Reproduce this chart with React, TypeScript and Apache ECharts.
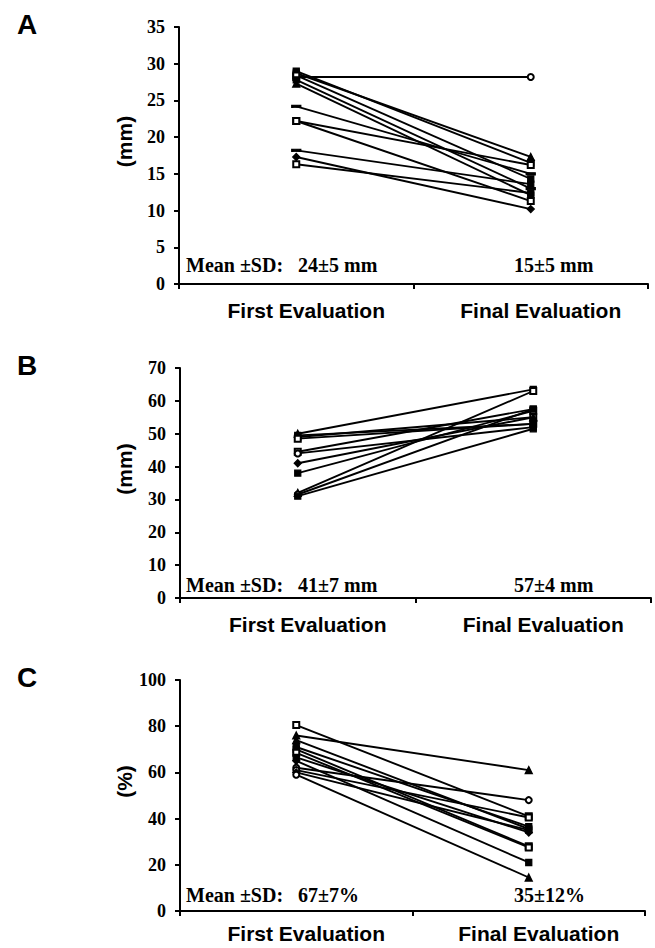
import React, { useEffect, useRef } from "react";
import * as echarts from "echarts";

const categories = ["First Evaluation", "Final Evaluation"];

// Panel A (mm)
const aFirst = [28.2, 29.0, 28.7, 28.4, 27.8, 27.3, 24.2, 22.2, 22.2, 18.2, 17.3, 16.3];
const aFinal = [28.2, 16.5, 17.3, 14.3, 13.0, 12.1, 15.0, 16.2, 11.3, 13.6, 10.2, 12.4];
const aFirstSym = ["emptyRect", "rect", "rect", "emptyRect", "rect", "triangle", "dash", "emptyRect", "emptyRect", "dash", "diamond", "emptyRect"];
const aFinalSym = ["emptyCircle", "rect", "triangle", "rect", "dash", "rect", "dash", "emptyRect", "emptyRect", "rect", "diamond", "rect"];
const aMeans = ["Mean ±SD:   24±5 mm", "15±5 mm"];

// Panel B (mm)
const bFirst = [50.0, 49.5, 49.0, 48.5, 44.5, 44.0, 41.0, 38.0, 32.0, 31.5, 31.0];
const bFinal = [63.5, 53.0, 55.0, 53.0, 57.5, 52.0, 55.0, 57.0, 63.0, 57.5, 51.5];
const bFirstSym = ["triangle", "rect", "rect", "emptyRect", "emptyRect", "emptyCircle", "diamond", "rect", "triangle", "emptyCircle", "rect"];
const bFinalSym = ["rect", "emptyRect", "emptyRect", "rect", "rect", "rect", "triangle", "emptyRect", "emptyRect", "rect", "rect"];
const bMeans = ["Mean ±SD:   41±7 mm", "57±4 mm"];

// Panel C (%)
const cFirst = [80.5, 76.0, 74.0, 71.0, 70.0, 68.5, 66.5, 65.0, 62.0, 61.0, 60.0, 59.0];
const cFinal = [41.0, 61.0, 35.5, 36.5, 28.0, 27.5, 34.0, 21.0, 48.0, 40.5, 35.0, 14.5];
const cFirstSym = ["emptyRect", "triangle", "triangle", "rect", "rect", "emptyRect", "rect", "diamond", "emptyCircle", "emptyCircle", "diamond", "emptyCircle"];
const cFinalSym = ["emptyRect", "triangle", "rect", "rect", "emptyRect", "emptyRect", "diamond", "rect", "emptyCircle", "emptyRect", "rect", "triangle"];
const cMeans = ["Mean ±SD:   67±7%", "35±12%"];

const yMax = [35, 70, 100];
const yInterval = [5, 10, 20];
const yNames = ["(mm)", "(mm)", "(%)"];
const panelLetters = ["A", "B", "C"];

const grids = [
  { left: 179, top: 27, width: 469, height: 257 },
  { left: 180, top: 368, width: 471, height: 230 },
  { left: 180, top: 680, width: 465, height: 231 },
];

const SERIF = "'Liberation Serif', 'Times New Roman', serif";
const SANS = "'Liberation Sans', Arial, sans-serif";

function symSpec(s: string) {
  if (s === "dash") return { symbol: "rect", symbolSize: [8, 2.5] };
  if (s === "triangle") return { symbol: "triangle", symbolSize: 7 };
  if (s === "diamond") return { symbol: "diamond", symbolSize: 7 };
  return { symbol: s, symbolSize: 6 };
}

function buildSeries(first: number[], final: number[], s1: string[], s2: string[], idx: number) {
  return first.map((v, i) => {
    const a = symSpec(s1[i]);
    const b = symSpec(s2[i]);
    return {
      type: "line",
      xAxisIndex: idx,
      yAxisIndex: idx,
      silent: true,
      data: [
        { value: v, symbol: a.symbol, symbolSize: a.symbolSize },
        { value: final[i], symbol: b.symbol, symbolSize: b.symbolSize },
      ],
      lineStyle: { color: "#000", width: 1.9 },
      itemStyle: { color: "#000", borderColor: "#000", borderWidth: 1.3 },
      emphasis: { disabled: true },
      z: 3,
    };
  });
}

export default function App() {
  const ref = useRef<HTMLDivElement>(null);
  useEffect(() => {
    if (!ref.current) return;
    const chart = echarts.init(ref.current, undefined, { renderer: "svg" });
    const means = [aMeans, bMeans, cMeans];
    const meanY = [265, 585, 895];
    const graphic: any[] = [];
    grids.forEach((g, i) => {
      graphic.push({
        type: "text",
        x: 27,
        y: g.top - 3,
        style: { text: panelLetters[i], font: `bold 28px ${SANS}`, fill: "#000", align: "center", verticalAlign: "middle" },
      });
      graphic.push({
        type: "text",
        x: 124,
        y: g.top + g.height / 2 - 14,
        rotation: Math.PI / 2,
        style: { text: yNames[i], font: `bold 21px ${SANS}`, fill: "#000", align: "center", verticalAlign: "middle" },
      });
      graphic.push({
        type: "text",
        x: 186,
        y: meanY[i],
        style: { text: means[i][0], font: `bold 20px ${SERIF}`, fill: "#000", align: "left", verticalAlign: "middle" },
      });
      graphic.push({
        type: "text",
        x: 514,
        y: meanY[i],
        style: { text: means[i][1], font: `bold 20px ${SERIF}`, fill: "#000", align: "left", verticalAlign: "middle" },
      });
    });

    const labelMargins = [16, 16, 12];
    const option: any = {
      animation: false,
      backgroundColor: "#fff",
      grid: grids.map((g) => ({ ...g, containLabel: false })),
      xAxis: grids.map((_, i) => ({
        type: "category",
        gridIndex: i,
        data: categories,
        boundaryGap: true,
        axisLine: { show: true, lineStyle: { color: "#000", width: 2 } },
        axisTick: { show: true, length: 5, lineStyle: { color: "#000", width: 2 } },
        axisLabel: {
          color: "#000",
          fontFamily: SANS,
          fontWeight: "bold",
          fontSize: 21,
          margin: labelMargins[i],
          padding: [0, 0, 0, 20],
        },
        splitLine: { show: false },
      })),
      yAxis: grids.map((_, i) => ({
        type: "value",
        gridIndex: i,
        min: 0,
        max: yMax[i],
        interval: yInterval[i],
        axisLine: { show: true, lineStyle: { color: "#000", width: 2 } },
        axisTick: { show: true, length: 5, lineStyle: { color: "#000", width: 2 } },
        axisLabel: { color: "#000", fontFamily: SERIF, fontWeight: "bold", fontSize: 18, margin: 14 },
        splitLine: { show: false },
      })),
      series: [
        ...buildSeries(aFirst, aFinal, aFirstSym, aFinalSym, 0),
        ...buildSeries(bFirst, bFinal, bFirstSym, bFinalSym, 1),
        ...buildSeries(cFirst, cFinal, cFirstSym, cFinalSym, 2),
      ],
      graphic,
    };
    chart.setOption(option);
    return () => chart.dispose();
  }, []);
  return <div ref={ref} style={{ position: "absolute", left: 0, top: 0, width: 655, height: 948 }} />;
}
